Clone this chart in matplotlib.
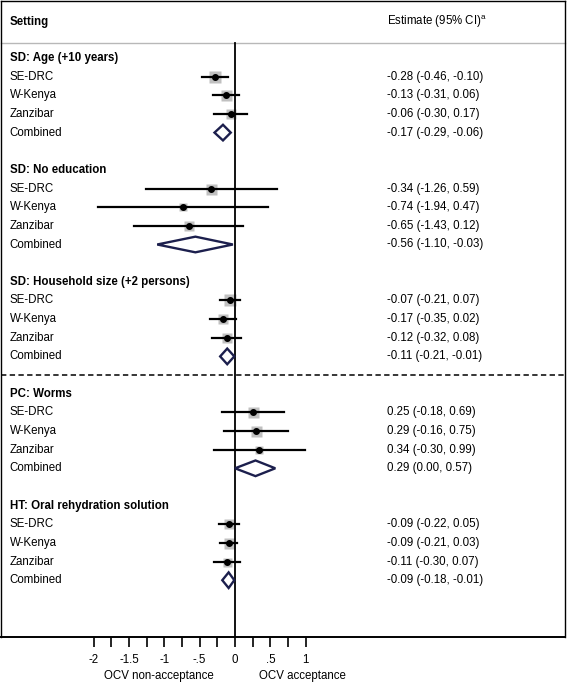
import numpy as np
import matplotlib
matplotlib.use("Agg")
import matplotlib.pyplot as plt
from matplotlib.patches import Polygon
from matplotlib.transforms import blended_transform_factory

# data
groups = ["SD: Age (+10 years)", "SD: No education", "SD: Household size (+2 persons)",
          "PC: Worms", "HT: Oral rehydration solution"]
sites = ["SE-DRC", "W-Kenya", "Zanzibar"]

est = [[-0.28, -0.13, -0.06],
       [-0.34, -0.74, -0.65],
       [-0.07, -0.17, -0.12],
       [0.25, 0.29, 0.34],
       [-0.09, -0.09, -0.11]]
lo = [[-0.46, -0.31, -0.30],
      [-1.26, -1.94, -1.43],
      [-0.21, -0.35, -0.32],
      [-0.18, -0.16, -0.30],
      [-0.22, -0.21, -0.30]]
hi = [[-0.10, 0.06, 0.17],
      [0.59, 0.47, 0.12],
      [0.07, 0.02, 0.08],
      [0.69, 0.75, 0.99],
      [0.05, 0.03, 0.07]]
# relative study weights (judged from the grey box sizes)
weights = [[12, 11, 9.5],
           [11, 8, 10],
           [12.5, 10, 10],
           [11, 11, 8.5],
           [10.5, 11, 9]]

comb_est = [-0.17, -0.56, -0.11, 0.29, -0.09]
comb_lo = [-0.29, -1.10, -0.21, 0.00, -0.18]
comb_hi = [-0.06, -0.03, -0.01, 0.57, -0.01]

tick_vals = [-2, -1.5, -1, -0.5, 0, 0.5, 1]
tick_labels = ["-2", "-1.5", "-1", "-.5", "0", ".5", "1"]

plt.rcParams["font.family"] = ["Liberation Sans", "DejaVu Sans"]
plt.rcParams["font.size"] = 8.3

W, H = 567, 682
fig = plt.figure(figsize=(W / 100, H / 100), dpi=100)
# box: x 1..565 px, y 1..637 px
ax = fig.add_axes([1 / W, (H - 637) / H, 564 / W, 636 / H])

px_per_unit = 70.7
x0_px = 235
row_h = 18.65
r0_px = 58
xl = ((1 - x0_px) / px_per_unit, (565 - x0_px) / px_per_unit)
yl = ((637 - r0_px) / row_h, (1 - r0_px) / row_h)
ax.set_xlim(*xl)
ax.set_ylim(*yl)

for s in ax.spines.values():
    s.set_linewidth(1.0)
    s.set_color("black")
ax.spines["bottom"].set_linewidth(1.4)

ax.set_yticks([])
minor = np.arange(-2, 1.01, 0.25)
ax.set_xticks(minor)
ax.set_xticklabels([tick_labels[tick_vals.index(v)] if v in tick_vals else "" for v in minor])
ax.tick_params(axis="x", direction="out", length=7, width=1.2, pad=5, labelsize=8.3)

text_x = xl[0] + 8.5 / px_per_unit
est_x = (387 - x0_px) / px_per_unit
header_r = (43 - r0_px) / row_h
title_r = (21.5 - r0_px) / row_h

# header
ax.text(text_x, title_r, "Setting", fontweight="bold", va="center", ha="left")
ax.text(est_x, title_r, "Estimate (95% CI)$^{\\mathregular{a}}$", va="center", ha="left")
ax.plot(xl, [header_r, header_r], color="#b8b8b8", lw=1.0, clip_on=False)
ax.plot([0, 0], [header_r, yl[0]], color="black", lw=1.3, zorder=3)

def fmt(v):
    return "%.2f" % v

for g, name in enumerate(groups):
    base = g * 6
    ax.text(text_x, base, name, fontweight="bold", va="center", ha="left")
    for i, site in enumerate(sites):
        r = base + 1 + i
        ax.text(text_x, r, site, va="center", ha="left")
        ax.plot([lo[g][i], hi[g][i]], [r, r], color="black", lw=1.6, zorder=4)
        ax.plot(est[g][i], r, marker="s", ms=weights[g][i] * 0.72, color="#c0c0c0",
                mec="none", zorder=2)
        ax.plot(est[g][i], r, marker="o", ms=4, color="black", zorder=5)
        ax.text(est_x, r, "%s (%s, %s)" % (fmt(est[g][i]), fmt(lo[g][i]), fmt(hi[g][i])),
                va="center", ha="left")
    r = base + 4
    ax.text(text_x, r, "Combined", va="center", ha="left")
    d = 0.42
    diamond = Polygon([[comb_lo[g], r], [comb_est[g], r - d], [comb_hi[g], r],
                       [comb_est[g], r + d]], closed=True, facecolor="white",
                      edgecolor="#1c1f4d", lw=1.7, zorder=6)
    ax.add_patch(diamond)
    ax.text(est_x, r, "%s (%s, %s)" % (fmt(comb_est[g]), fmt(comb_lo[g]), fmt(comb_hi[g])),
            va="center", ha="left")

# dashed separator between SD and PC blocks
ax.plot(xl, [17, 17], color="black", lw=1.1, ls=(0, (3.5, 2.2)), zorder=1)

trans = blended_transform_factory(ax.transData, fig.transFigure)
ax.text(-1.08, 1 - 676 / H, "OCV non-acceptance", transform=trans, ha="center", va="center")
ax.text(0.95, 1 - 676 / H, "OCV acceptance", transform=trans, ha="center", va="center")

fig.savefig("out.png", dpi=100)
